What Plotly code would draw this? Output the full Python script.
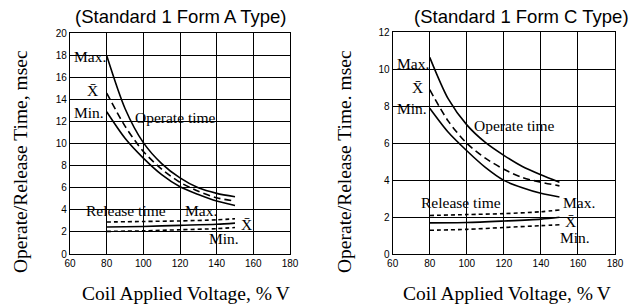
import plotly.graph_objects as go

# ---------------- data ----------------
op_x = [80, 90, 100, 110, 120, 130, 140, 150]
rel_x = [80, 100, 120, 140, 150]

# Standard 1 Form A
a_op_max = [18.0, 13.2, 10.1, 8.2, 6.9, 6.0, 5.5, 5.2]
a_op_avg = [14.6, 11.6, 9.3, 7.7, 6.5, 5.7, 5.1, 4.8]
a_op_min = [12.9, 10.5, 8.7, 7.2, 6.1, 5.4, 4.8, 4.4]
a_rel_max = [2.9, 2.95, 3.0, 3.1, 3.2]
a_rel_avg = [2.45, 2.5, 2.6, 2.7, 2.8]
a_rel_min = [2.05, 2.1, 2.2, 2.3, 2.4]

# Standard 1 Form C
c_op_max = [10.65, 8.4, 7.0, 6.05, 5.35, 4.75, 4.3, 3.9]
c_op_avg = [8.9, 7.2, 6.0, 5.2, 4.6, 4.15, 3.9, 3.7]
c_op_min = [7.9, 6.6, 5.6, 4.7, 4.0, 3.6, 3.3, 3.1]
c_rel_max = [2.1, 2.15, 2.2, 2.3, 2.4]
c_rel_avg = [1.7, 1.72, 1.8, 1.9, 2.0]
c_rel_min = [1.3, 1.35, 1.45, 1.55, 1.6]

x_ticks = [60, 80, 100, 120, 140, 160, 180]
a_y_ticks = [0, 2, 4, 6, 8, 10, 12, 14, 16, 18, 20]
c_y_ticks = [0, 2, 4, 6, 8, 10, 12]

titles = ["(Standard 1 Form A Type)", "(Standard 1 Form C Type)"]
x_title = "Coil Applied Voltage, %\u2009V"
y_titles = ["Operate/Release Time, msec", "Operate/Release Time. msec"]
XBAR = "X\u0304"

SERIF = "Liberation Serif, Times New Roman, serif"
SANS = "Liberation Sans, Arial, sans-serif"

fig = go.Figure()


def add_line(x, y, xa, ya, dash):
    fig.add_trace(go.Scatter(
        x=x, y=y, mode="lines", xaxis=xa, yaxis=ya, showlegend=False,
        line=dict(color="black", width=1.6, dash=dash, shape="spline", smoothing=0.8),
        hoverinfo="skip"))


OP_DASH = "7px,4px"
REL_DASH = "4px,3px"

for xa, ya, mx, av, mn, rmx, rav, rmn in [
    ("x", "y", a_op_max, a_op_avg, a_op_min, a_rel_max, a_rel_avg, a_rel_min),
    ("x2", "y2", c_op_max, c_op_avg, c_op_min, c_rel_max, c_rel_avg, c_rel_min),
]:
    add_line(op_x, mx, xa, ya, "solid")
    add_line(op_x, av, xa, ya, OP_DASH)
    add_line(op_x, mn, xa, ya, "solid")
    add_line(rel_x, rmx, xa, ya, REL_DASH)
    add_line(rel_x, rav, xa, ya, "solid")
    add_line(rel_x, rmn, xa, ya, REL_DASH)

axis_common = dict(
    showline=True, mirror=True, linecolor="black", linewidth=1.3,
    showgrid=True, gridcolor="black", gridwidth=1.2, zeroline=False,
    ticks="", tickfont=dict(family=SANS, size=10, color="black"),
    automargin=False,
)

fig.update_layout(
    width=643, height=305,
    margin=dict(l=0, r=0, t=0, b=0, autoexpand=False),
    paper_bgcolor="white", plot_bgcolor="white",
    xaxis=dict(domain=[0.1089, 0.4510], range=[60, 180], tickvals=x_ticks, anchor="y", **axis_common),
    yaxis=dict(domain=[0.1672, 0.8902], range=[0, 20], tickvals=a_y_ticks, anchor="x", **axis_common),
    xaxis2=dict(domain=[0.6107, 0.9565], range=[60, 180], tickvals=x_ticks, anchor="y2", **axis_common),
    yaxis2=dict(domain=[0.1662, 0.8938], range=[0, 12], tickvals=c_y_ticks, anchor="x2", **axis_common),
)

ann = []


def txt(text, x, y, xref, yref, size=15.5, xanchor="center", font=SERIF, angle=0):
    ann.append(dict(text=text, x=x, y=y, xref=xref, yref=yref, showarrow=False,
                    xanchor=xanchor, yanchor="middle", textangle=angle,
                    font=dict(family=font, size=size, color="black")))


# titles
txt(titles[0], 181, 16, "paper", "paper", size=18.5, font=SANS)
txt(titles[1], 521, 16, "paper", "paper", size=18.5, font=SANS)
txt(x_title, 186, 293, "paper", "paper", size=19.5)
txt(x_title, 507, 293, "paper", "paper", size=19.5)
txt(y_titles[0], 21, 162, "paper", "paper", size=19.5, angle=-90)
txt(y_titles[1], 345, 162, "paper", "paper", size=19.5, angle=-90)

# left plot labels
txt("Max.", 80.6, 17.9, "x", "y", xanchor="right")
txt(XBAR, 72.5, 14.8, "x", "y")
txt("Min.", 79.6, 12.85, "x", "y", xanchor="right")
txt("Operate time", 117.3, 12.4, "x", "y")
txt("Release time", 90.5, 3.94, "x", "y")
txt("Max.", 131.5, 3.94, "x", "y")
txt(XBAR, 156.5, 2.7, "x", "y")
txt("Min.", 144, 1.45, "x", "y")

# right plot labels
txt("Max.", 80.6, 10.3, "x2", "y2", xanchor="right")
txt(XBAR, 73.3, 9.0, "x2", "y2")
txt("Min.", 79.8, 7.9, "x2", "y2", xanchor="right")
txt("Operate time", 125.7, 6.99, "x2", "y2")
txt("Release time", 96.8, 2.81, "x2", "y2")
txt("Max.", 160.5, 2.8, "x2", "y2")
txt(XBAR, 155.7, 1.75, "x2", "y2")
txt("Min.", 158.4, 0.9, "x2", "y2")

# convert pixel-positioned paper annotations
for a in ann:
    if a["xref"] == "paper":
        a["x"] = a["x"] / 643
        a["y"] = 1 - a["y"] / 305

fig.update_layout(annotations=ann)
fig.write_html(
    "out.html",
    config={"displayModeBar": False},
    post_script="document.body.style.margin='0';document.body.style.padding='0';"
                "document.documentElement.style.overflow='hidden';",
)
